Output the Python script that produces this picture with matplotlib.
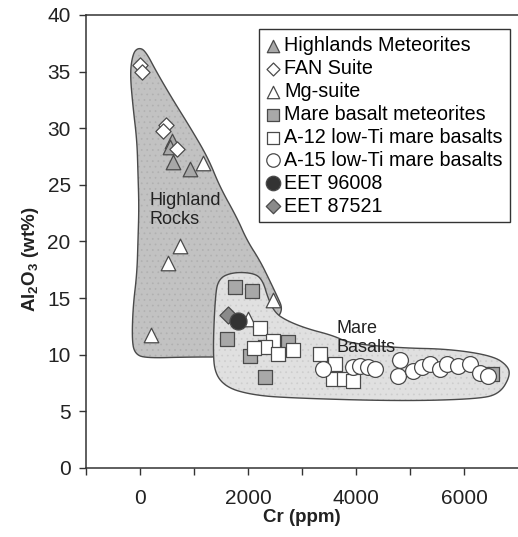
import numpy as np
import matplotlib.pyplot as plt
from matplotlib.patches import Polygon

plt.rcParams['font.family'] = ['Liberation Sans', 'DejaVu Sans']
plt.rcParams['hatch.linewidth'] = 0.5

# outline of the "Highland Rocks" field (Cr ppm, Al2O3 wt%)
highland_cr = [-37, -130, -185, -130, -56, -37, -19, -37, -56, -130, -148, -93, 93,
               900, 1667, 2130, 2463, 2593, 2630, 2556, 2407, 2222, 1981, 1796,
               1481, 1259, 926, 611, 315, 93]
highland_al = [37.1, 36.6, 34.9, 31.9, 28.9, 26.0, 23.0, 20.1, 17.2, 14.2, 11.2, 10.1, 9.7,
               9.8, 9.8, 12.6, 13.0, 13.5, 14.2, 15.0, 16.5, 18.3, 20.1, 22.1,
               24.8, 27.4, 30.1, 32.5, 34.9, 36.9]

# outline of the "Mare Basalts" field
mare_cr = [1444, 1722, 2130, 2278, 2370, 2500, 2722, 3093, 3574, 3889, 4815, 5741,
           6537, 6815, 6852, 6667, 6296, 4815, 2648, 2037, 1611, 1389, 1352, 1389]
mare_al = [16.7, 17.3, 17.2, 16.5, 15.0, 13.7, 13.0, 12.3, 11.7, 11.0, 10.6, 10.5,
           9.9, 9.0, 8.1, 6.6, 6.1, 5.9, 6.2, 6.5, 7.1, 8.3, 10.4, 14.8]

highlands_met_cr = [590, 560, 620, 930]
highlands_met_al = [28.9, 28.3, 27.0, 26.4]

fan_cr = [0, 30, 490, 420, 680]
fan_al = [35.6, 35.0, 30.3, 29.8, 28.2]

mg_cr = [1170, 740, 520, 200, 2470, 2000]
mg_al = [26.9, 19.6, 18.1, 11.7, 14.8, 13.2]

mare_met_cr = [1760, 2070, 1605, 2040, 2740, 2310, 6510]
mare_met_al = [16.0, 15.6, 11.4, 9.9, 11.1, 8.0, 8.3]

a12_cr = [2220, 2470, 2320, 2110, 2560, 2840, 3330, 3610, 3580, 3770, 3950]
a12_al = [12.4, 11.2, 10.7, 10.6, 10.1, 10.4, 10.1, 9.2, 7.9, 7.9, 7.7]

a15_cr = [3395, 3950, 4074, 4228, 4350, 4815, 4784, 5062, 5216, 5370, 5555, 5679,
          5895, 6111, 6296, 6450]
a15_al = [8.7, 8.9, 9.0, 8.9, 8.7, 9.5, 8.1, 8.6, 8.9, 9.2, 8.7, 9.2, 9.0, 9.2, 8.4, 8.1]

eet96008_cr = [1815]
eet96008_al = [13.0]
eet87521_cr = [1630]
eet87521_al = [13.5]


def chaikin(x, y, n=3):
    # round off the corners of a closed outline
    p = np.column_stack([x, y]).astype(float)
    for _ in range(n):
        q = np.roll(p, -1, axis=0)
        p = np.column_stack([0.75 * p + 0.25 * q, 0.25 * p + 0.75 * q]).reshape(-1, 2)
    return p


fig = plt.figure(figsize=(5.18, 5.37), dpi=100)
ax = fig.add_axes([0.166, 0.1285, 0.834, 0.8436])

edge = '#4a4a4a'
hl = chaikin(highland_cr, highland_al)
mr = chaikin(mare_cr, mare_al)
# fill + dotted texture, then the outline on its own
ax.add_patch(Polygon(hl, closed=True, facecolor='#c2c2c2', edgecolor='#b0b0b0', lw=0,
                     hatch='...', zorder=1))
ax.add_patch(Polygon(hl, closed=True, fill=False, edgecolor=edge, lw=1.0, zorder=1.5))
ax.add_patch(Polygon(mr, closed=True, facecolor='#e0e0e0', edgecolor='#cdcdcd', lw=0,
                     hatch='...', zorder=2))
ax.add_patch(Polygon(mr, closed=True, fill=False, edgecolor=edge, lw=1.0, zorder=2.5))

kw = dict(edgecolors=edge, linewidths=0.9, zorder=5)
h1 = ax.scatter(highlands_met_cr, highlands_met_al, marker='^', s=110, facecolors='#a8a8a8', **kw)
h2 = ax.scatter(fan_cr, fan_al, marker='D', s=60, facecolors='white', **kw)
h3 = ax.scatter(mg_cr, mg_al, marker='^', s=110, facecolors='white', **kw)
h4 = ax.scatter(mare_met_cr, mare_met_al, marker='s', s=90, facecolors='#a8a8a8', **kw)
h5 = ax.scatter(a12_cr, a12_al, marker='s', s=90, facecolors='white', **kw)
h6 = ax.scatter(a15_cr, a15_al, marker='o', s=130, facecolors='white', **kw)
h8 = ax.scatter(eet87521_cr, eet87521_al, marker='D', s=75, facecolors='#8a8a8a', **kw)
h7 = ax.scatter(eet96008_cr, eet96008_al, marker='o', s=150, facecolors='#333333', **kw)

ax.text(185, 24.4, 'Highland\nRocks', fontsize=13, color='#222222', va='top',
        linespacing=1.2, zorder=6)
ax.text(3630, 13.1, 'Mare\nBasalts', fontsize=13, color='#222222', va='top',
        linespacing=1.2, zorder=6)

ax.set_xlim(-1000, 7000)
ax.set_ylim(0, 40)
ax.set_xticks([0, 2000, 4000, 6000])
ax.set_xticks([-1000, 1000, 3000, 5000], minor=True)
ax.set_yticks(range(0, 41, 5))
ax.tick_params(which='both', direction='out', length=5, width=1, colors='#333333',
               labelsize=15, labelcolor='#222222')
ax.tick_params(axis='x', pad=10)
ax.tick_params(axis='y', pad=6)
ax.spines['right'].set_visible(False)
for s in ['left', 'top', 'bottom']:
    ax.spines[s].set_color('#333333')
    ax.spines[s].set_linewidth(1.1)

ax.set_xlabel('Cr (ppm)', fontsize=13.5, fontweight='bold', color='#222222', labelpad=1)
ax.set_ylabel('Al$_\\mathregular{2}$O$_\\mathregular{3}$ (wt%)', fontsize=13.5,
              fontweight='bold', color='#222222')
ax.yaxis.set_label_coords(-0.105, 0.46)

leg = ax.legend([h1, h2, h3, h4, h5, h6, h7, h8],
                ['Highlands Meteorites', 'FAN Suite', 'Mg-suite', 'Mare basalt meteorites',
                 'A-12 low-Ti mare basalts', 'A-15 low-Ti mare basalts', 'EET 96008',
                 'EET 87521'],
                loc='upper right', bbox_to_anchor=(0.981, 0.969), fontsize=14.2,
                fancybox=False, framealpha=1, edgecolor='#333333', handlelength=0.7,
                handletextpad=0.25, labelspacing=0.2, borderpad=0.35, borderaxespad=0,
                markerscale=0.85)
leg.get_frame().set_linewidth(1.0)
leg.set_zorder(10)

fig.savefig('out.png', dpi=100)
